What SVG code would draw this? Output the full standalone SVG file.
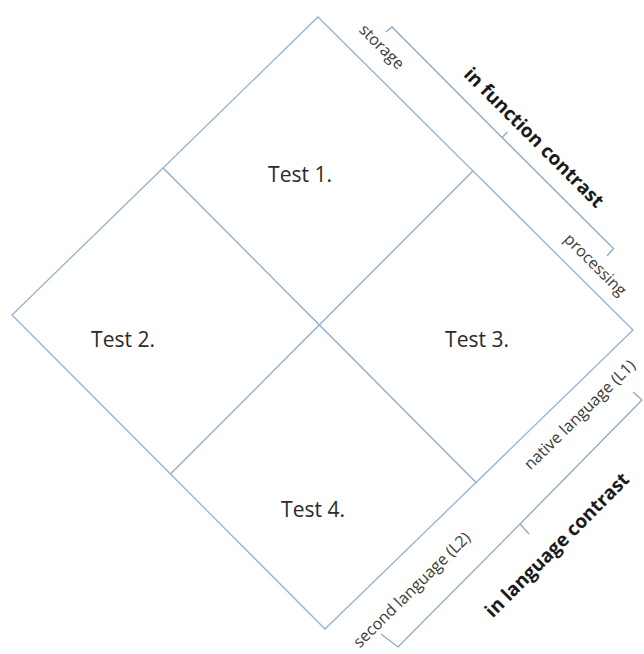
<svg xmlns="http://www.w3.org/2000/svg" width="644" height="654" viewBox="0 0 644 654">
<style>
.cell{fill:#ffffff;stroke:#93b3d0;stroke-width:1.3;stroke-linejoin:miter}
.br{fill:none;stroke:#8fa8bf;stroke-width:1.3}
.lbl{font-family:"Open Sans","Liberation Sans",sans-serif;font-size:21px;fill:#2b2b2b;text-anchor:middle}
.sm{font-family:"Open Sans","Liberation Sans",sans-serif;font-size:16px;fill:#3a3a3a;text-anchor:middle}
.bd{font-family:"Open Sans","Liberation Sans",sans-serif;font-size:19px;font-weight:bold;fill:#1a1a1a;text-anchor:middle}
</style>
<rect width="644" height="654" fill="#ffffff"/>
<g id="test1">
<polygon class="cell" points="318,17 473,171 319.3,325 163,168"/>
<text class="lbl" x="300" y="182">Test 1.</text>
</g>
<g id="test2">
<polygon class="cell" points="163,168 319.3,325 170.5,474 12,315"/>
<text class="lbl" x="123" y="347">Test 2.</text>
</g>
<g id="test3">
<polygon class="cell" points="473,171 633,330 476,482.5 319.3,325"/>
<text class="lbl" x="477" y="347">Test 3.</text>
</g>
<g id="test4">
<polygon class="cell" points="319.3,325 476,482.5 325,629 170.5,474"/>
<text class="lbl" x="313" y="517">Test 4.</text>
</g>
<g id="connectors">
<path class="br" d="M386,32 L392,27 L502,137.5 L507.5,132 M502,137.5 L613.5,248.5 L607,256"/>
<path class="br" d="M633,392 L642,400 L520,524 L529,534 M520,524 L398,647 L381,634"/>
</g>
<g id="labels">
<text class="sm" transform="translate(381.5,47) rotate(45)" y="5">storage</text>
<text class="bd" transform="translate(534,137.5) rotate(45)" y="6.5">in function contrast</text>
<text class="sm" transform="translate(595,265) rotate(45)" y="5">processing</text>
<text class="sm" transform="translate(580,415) rotate(-44.5)" y="5">native language (L1)</text>
<text class="sm" transform="translate(412,590) rotate(-44.5)" y="5">second language (L2)</text>
<text class="bd" transform="translate(557,545) rotate(-45)" y="6.5">in language contrast</text>
</g>
</svg>
